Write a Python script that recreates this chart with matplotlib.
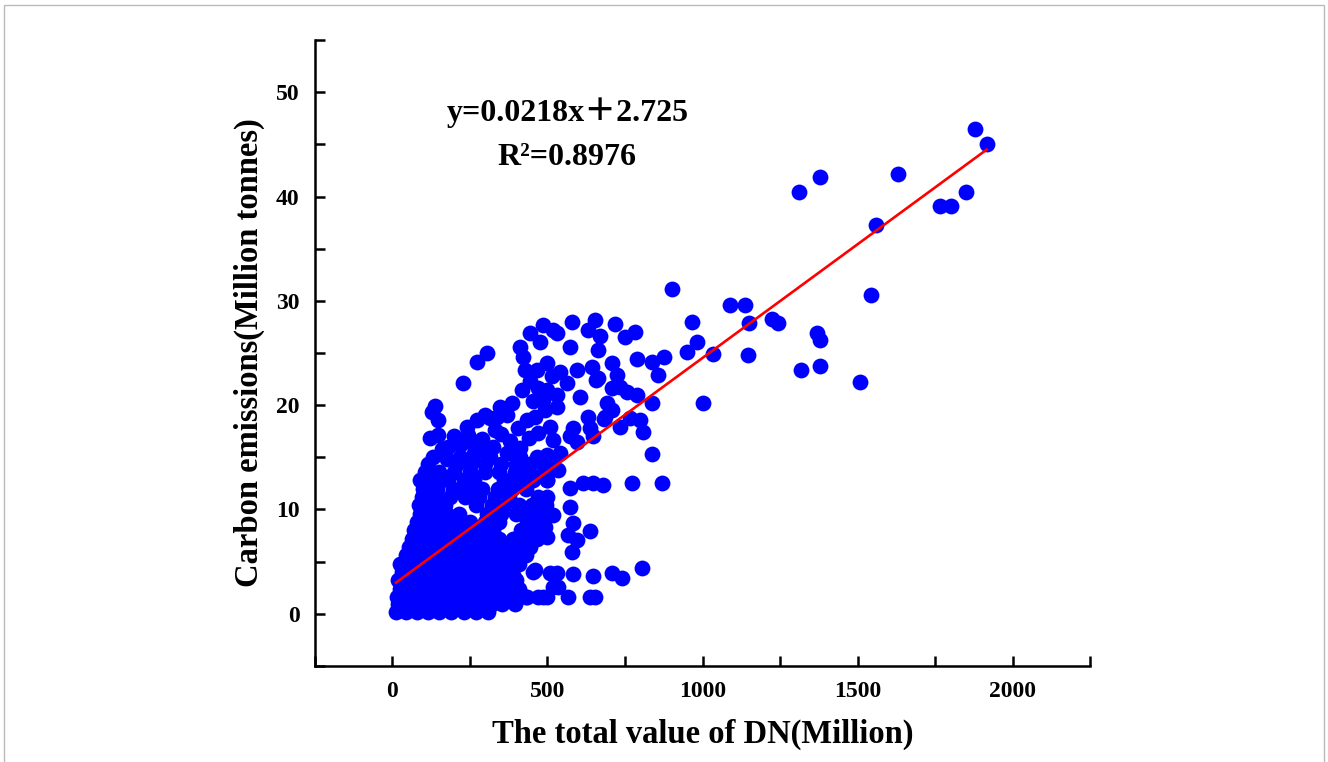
import matplotlib
matplotlib.use("Agg")
import matplotlib.pyplot as plt
import numpy as np
from matplotlib.patches import Rectangle

plt.rcParams['font.family'] = ['Liberation Serif', 'Noto Sans CJK SC', 'DejaVu Sans']
plt.rcParams['font.weight'] = 'bold'

# dense cluster, read row by row (carbon level -> DN values)
dense_y = [0.2, 0.9, 1.6, 2.4, 3.2, 4.0, 4.8, 5.6, 6.4, 7.2, 8.0, 8.8, 9.6,
           10.4, 11.2, 12.0, 12.8, 13.6, 14.4]
dense_x = [
    [12, 45, 80, 115, 150, 190, 230, 270, 310],
    [20, 55, 90, 125, 160, 200, 240, 280, 320, 355, 395],
    [15, 50, 85, 120, 155, 195, 235, 275, 315, 350, 385, 430, 470],
    [25, 60, 95, 130, 165, 205, 245, 285, 325, 365, 410],
    [20, 55, 90, 125, 165, 205, 245, 285, 325, 365, 400],
    [30, 65, 100, 140, 180, 220, 260, 300, 340, 380, 455],
    [25, 60, 95, 130, 170, 210, 250, 290, 330, 370, 410],
    [45, 80, 115, 155, 195, 235, 275, 315, 355, 395, 430],
    [55, 90, 130, 170, 210, 250, 290, 330, 370, 410, 445],
    [65, 100, 140, 180, 220, 260, 300, 345, 390, 430, 465],
    [70, 110, 150, 190, 235, 280, 325, 415, 460],
    [80, 120, 160, 205, 250, 300, 345, 435, 475],
    [90, 130, 175, 215, 305, 350, 400, 445, 490],
    [85, 125, 170, 270, 320, 360, 410, 450, 495],
    [95, 140, 185, 235, 280, 330, 375, 470],
    [100, 145, 195, 240, 290, 340, 385, 430],
    [90, 130, 180, 230, 265, 360, 410, 455, 500],
    [105, 150, 200, 250, 300, 345, 395, 440, 490],
    [115, 210, 255, 300, 350, 400, 445, 485],
]

# scattered points, low/middle range
mid_x = [132, 177, 219, 261, 316, 370, 412, 467, 509, 283, 325, 412,
         138, 129, 148, 122, 148, 219, 242, 245, 274, 299, 316, 406, 435, 461,
         486, 499, 419, 386, 348, 338, 370, 350, 380, 440, 470, 330, 290, 260,
         200, 180, 160, 445, 470, 515, 530, 455,
         412, 422, 428, 467, 306, 274, 229, 444, 477, 486, 518, 531, 499, 541,
         580, 573, 596, 654, 631, 670, 663, 644, 708, 724, 663, 657,
         647, 631, 638, 583, 573, 596, 518, 605, 563, 531, 493, 499, 509, 541,
         499, 535, 518, 573, 615, 647, 680, 573, 583, 638, 567, 596, 580, 531,
         583, 647, 708, 740, 535, 499, 567, 638, 654, 518, 493, 499, 499, 499,
         390, 412, 380, 435, 486, 518, 461, 509,
         718, 750, 783, 683, 708, 766, 799, 808, 734, 757, 789, 734, 708, 692,
         686, 789, 837, 857, 876, 837, 837, 869, 773, 805]
mid_y = [15.0, 14.8, 15.0, 15.2, 15.0, 15.4, 15.0, 15.0, 14.8, 15.7, 16.0, 15.9,
         19.9, 19.3, 18.6, 16.9, 17.1, 16.2, 17.9, 17.1, 18.6, 19.1, 18.8, 17.8, 18.6, 18.9,
         20.5, 21.5, 21.5, 20.2, 19.8, 18.9, 19.1, 17.2, 16.6, 16.9, 17.3, 17.6, 16.8, 16.3,
         17.0, 16.0, 15.8, 22.3, 21.6, 22.8, 21.0, 20.4,
         25.6, 24.6, 23.4, 23.4, 25.0, 24.1, 22.1, 26.9, 26.1, 27.7, 27.2, 26.9, 24.0, 23.2,
         28.0, 25.6, 23.4, 28.2, 27.2, 26.6, 25.3, 23.7, 24.0, 22.9, 22.6, 22.4,
         17.0, 18.9, 17.8, 17.8, 17.0, 16.5, 16.7, 20.8, 22.1, 19.8, 19.5, 21.2, 17.9, 15.4,
         15.2, 13.8, 14.8, 12.1, 12.5, 12.5, 12.3, 10.2, 8.7, 7.9, 7.6, 7.1, 5.9, 3.9,
         3.8, 3.6, 3.9, 3.4, 2.6, 1.6, 1.6, 1.6, 1.6, 9.5, 8.3, 7.4, 11.2, 12.8,
         3.7, 2.0, 1.6, 1.6, 1.6, 2.6, 4.2, 3.9,
         27.8, 26.5, 27.0, 18.7, 19.5, 18.8, 18.6, 17.4, 17.9, 21.3, 21.0, 21.7, 21.6, 20.2,
         18.9, 24.4, 24.1, 22.9, 24.6, 20.2, 15.3, 12.5, 12.5, 4.4]

# scattered points, high range
high_x = [1878, 1916, 1849, 1800, 1765, 1630, 1559, 1543, 1507, 1378, 1311,
          1369, 1378, 1378, 1317, 1224, 1243, 1150, 1137, 1089, 1147, 1034,
          1002, 966, 982, 950, 902]
high_y = [46.5, 45.0, 40.4, 39.1, 39.1, 42.2, 37.3, 30.6, 22.2, 41.9, 40.4,
          26.9, 26.2, 23.8, 23.4, 28.3, 27.9, 27.9, 29.6, 29.6, 24.8, 24.9,
          20.2, 28.0, 26.1, 25.1, 31.1]

slope = 0.0218
intercept = 2.725

x_all = [x for row in dense_x for x in row] + mid_x + high_x
y_all = [y for row, y in zip(dense_x, dense_y) for _ in row] + mid_y + high_y
x_all = np.array(x_all, dtype=float)
y_all = np.array(y_all, dtype=float)

fig = plt.figure(figsize=(13.28, 7.62), dpi=100)
ax = fig.add_axes([0.237, 0.126, 0.584, 0.8215])

ax.scatter(x_all, y_all, s=130, color='#0000ff', linewidths=0, zorder=2)

xfit = np.array([x_all.min(), x_all.max()])
ax.plot(xfit, slope * xfit + intercept, color='#ff0000', lw=1.9, zorder=3)

ax.set_xlim(-250, 2250)
ax.set_ylim(-5, 55)
ax.set_xticks(np.arange(0, 2001, 500))
ax.set_xticks(np.arange(-250, 2251, 250), minor=True)
ax.set_yticks(np.arange(0, 51, 10))
ax.set_yticks(np.arange(-5, 56, 5), minor=True)

for side in ['top', 'right']:
    ax.spines[side].set_visible(False)
for side in ['left', 'bottom']:
    ax.spines[side].set_linewidth(1.8)

ax.tick_params(which='both', direction='in', length=7, width=1.8, labelsize=17, pad=11)
for lab in ax.get_xticklabels() + ax.get_yticklabels():
    lab.set_fontweight('bold')

ax.set_xlabel('The total value of DN(Million)', fontsize=23.5, fontweight='bold', labelpad=12)
ax.set_ylabel('Carbon emissions(Million tonnes)', fontsize=23.5, fontweight='bold', labelpad=8)

ax.text(564, 48.0, 'y=0.0218x\uff0b2.725', fontsize=23, fontweight='bold',
        ha='center', va='center')
ax.text(564, 43.7, 'R\u00b2=0.8976', fontsize=23, fontweight='bold',
        ha='center', va='center')

fig.patches.append(Rectangle((0.003, -0.01), 0.994, 1.004, transform=fig.transFigure,
                             fill=False, edgecolor='#bbbbbb', lw=1))

fig.savefig('out.png', dpi=100)
